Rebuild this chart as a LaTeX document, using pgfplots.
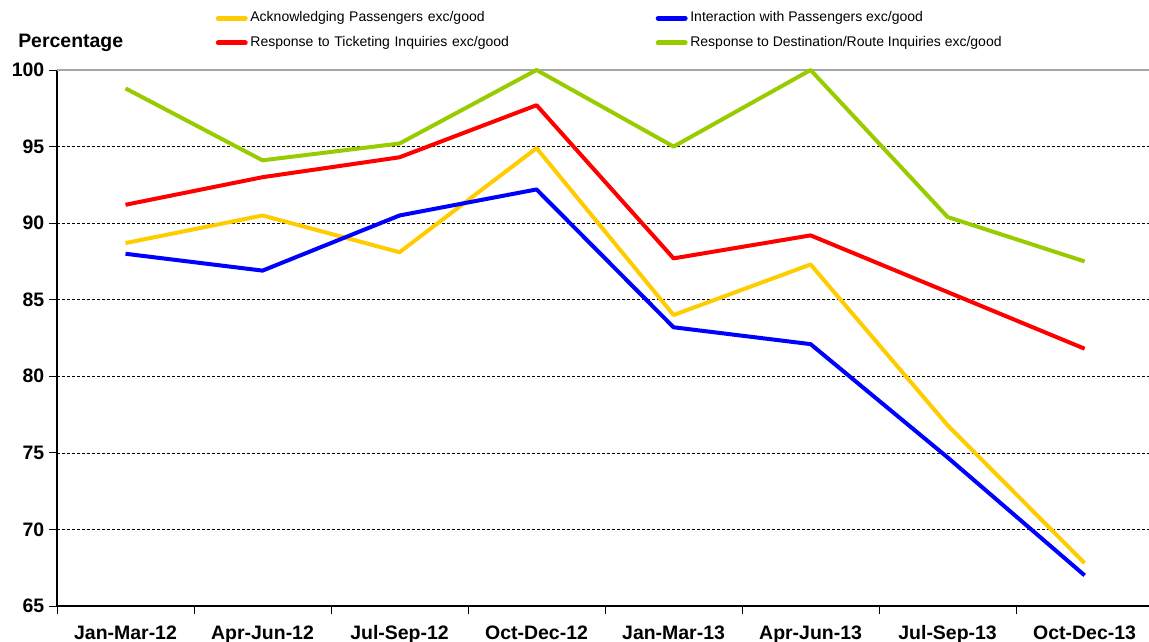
\documentclass[border=0pt]{standalone}
\usepackage{fontspec}
\setmainfont{Liberation Sans}
\usepackage{pgfplots}
\pgfplotsset{compat=1.18}
\usetikzlibrary{calc}
\definecolor{cyel}{HTML}{FFCC00}
\definecolor{cblu}{HTML}{0000FF}
\definecolor{cred}{HTML}{FF0000}
\definecolor{cgrn}{HTML}{99CC00}
\begin{document}
\begin{tikzpicture}
\begin{axis}[name=ax,
  scale only axis, width=819pt, height=402pt,
  xmin=-0.5, xmax=7.47, ymin=65, ymax=100,
  ytick={65,70,75,80,85,90,95,100},
  xtick={-0.5,0.5,1.5,2.5,3.5,4.5,5.5,6.5}, xticklabels={},
  extra x ticks={0,1,2,3,4,5,6,7},
  extra x tick labels={Jan-Mar-12,Apr-Jun-12,Jul-Sep-12,Oct-Dec-12,Jan-Mar-13,Apr-Jun-13,Jul-Sep-13,Oct-Dec-13},
  extra x tick style={major tick length=0pt, grid=none},
  axis x line=bottom, axis y line=left,
  axis line style={-, black, line width=1.2pt},
  tick align=outside, major tick length=6pt,
  tick style={black, line width=0.6pt},
  ymajorgrids,
  major grid style={black, line width=0.5pt, dash pattern=on 2.25pt off 1.5pt},
  tick label style={font=\bfseries\fontsize{14.6}{17}\selectfont},
  xticklabel style={anchor=north, text height=10.5pt, text depth=3.2pt, yshift=-11pt},
  /pgf/number format/assume math mode=true,
  clip=false,
  legend columns=2,
  legend cell align=left,
  legend style={at={(0,1)}, anchor=north west, xshift=118.9pt, yshift=44.25pt,
    draw=none, fill=none, inner sep=0pt, column sep=2pt, row sep=8pt,
    font=\fontsize{10.5}{12}\selectfont,
    nodes={inner sep=0pt, text height=8pt, text depth=2.5pt}},
  legend image code/.code={\draw[#1, line width=3.75pt, line cap=round] (1.9pt,0pt) -- (22.1pt,0pt);},
  every axis plot/.append style={line width=3pt, line join=round},
]
\draw[gray!70, line width=0.8pt] (rel axis cs:0,1) -- (rel axis cs:1,1);
\addplot[cyel, mark=none] coordinates {(0,88.7) (1,90.5) (2,88.1) (3,94.9) (4,84.0) (5,87.3) (6,76.8) (7,67.8)};
\addlegendentry[text width=302pt]{Acknowledging Passengers exc/good}
\addplot[cblu, mark=none] coordinates {(0,88.0) (1,86.9) (2,90.5) (3,92.2) (4,83.2) (5,82.1) (6,74.7) (7,67.0)};
\addlegendentry{Interaction with Passengers exc/good}
\addplot[cred, mark=none] coordinates {(0,91.2) (1,93.0) (2,94.3) (3,97.7) (4,87.7) (5,89.2) (6,85.5) (7,81.8)};
\addlegendentry[text width=302pt]{Response to Ticketing Inquiries exc/good}
\addplot[cgrn, mark=none] coordinates {(0,98.8) (1,94.1) (2,95.2) (3,100) (4,95.0) (5,100) (6,90.4) (7,87.5)};
\addlegendentry{Response to Destination/Route Inquiries exc/good}
\end{axis}
\node[anchor=west, font=\bfseries\fontsize{14.6}{17}\selectfont, inner sep=0pt] at ($(ax.north west)+(-29.25pt,20.25pt)$) {Percentage};
\pgfresetboundingbox
\path ($(ax.south west)+(-42.75pt,-27pt)$) rectangle ($(ax.north east)+(0pt,52.5pt)$);
\end{tikzpicture}
\end{document}
